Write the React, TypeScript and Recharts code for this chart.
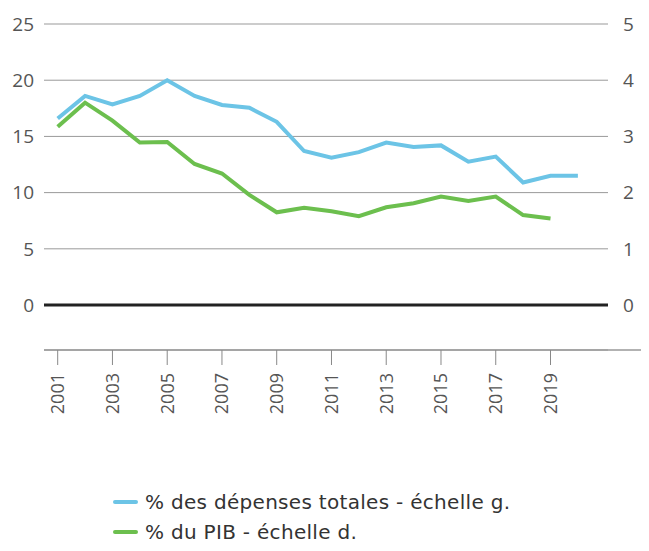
import { LineChart, Line, XAxis, YAxis, CartesianGrid, ReferenceLine, Legend } from 'recharts'

// années et valeurs
const years = [
  2001, 2002, 2003, 2004, 2005, 2006, 2007, 2008, 2009, 2010,
  2011, 2012, 2013, 2014, 2015, 2016, 2017, 2018, 2019, 2020,
]
const depensesTotales = [
  16.6, 18.6, 17.85, 18.6, 20.0, 18.6, 17.8, 17.55, 16.3, 13.7,
  13.1, 13.6, 14.45, 14.05, 14.2, 12.75, 13.2, 10.9, 11.5, 11.5,
]
const partPib: (number | null)[] = [
  3.17, 3.6, 3.28, 2.89, 2.9, 2.51, 2.34, 1.96, 1.65, 1.73,
  1.67, 1.58, 1.74, 1.81, 1.93, 1.85, 1.93, 1.6, 1.54, null,
]
const yearTicks = [2001, 2003, 2005, 2007, 2009, 2011, 2013, 2015, 2017, 2019]
const leftTicks = [0, 5, 10, 15, 20, 25]
const rightTicks = [0, 1, 2, 3, 4, 5]

const data = years.map((year, i) => ({
  year,
  depenses: depensesTotales[i],
  pib: partPib[i],
}))

const FONT = '"Open Sans", sans-serif'
const LEGEND_FONT = '"DejaVu Sans", sans-serif'
const BLUE = '#6cc4e6'
const GREEN = '#6cbf4e'

// eslint-disable-next-line @typescript-eslint/no-explicit-any
function YearTick({ x, y, payload }: any) {
  return (
    <text
      transform={`translate(${x},${y}) rotate(-90)`}
      textAnchor="end"
      dy="0.35em"
      fill="#555"
      fontSize={18}
      fontFamily={FONT}
    >
      {payload.value}
    </text>
  )
}

// eslint-disable-next-line @typescript-eslint/no-explicit-any
function CustomLegend({ payload }: any) {
  return (
    <div
      style={{
        height: 64,
        paddingLeft: 113,
        fontFamily: LEGEND_FONT,
        fontSize: 20,
        letterSpacing: 0.3,
        color: '#333',
      }}
    >
      {/* eslint-disable-next-line @typescript-eslint/no-explicit-any */}
      {payload?.map((entry: any) => (
        <div key={entry.value} style={{ display: 'flex', alignItems: 'center', height: 30, lineHeight: '30px' }}>
          <span
            style={{
              display: 'inline-block',
              width: 25,
              height: 4,
              borderRadius: 2,
              background: entry.color,
              marginRight: 7,
            }}
          />
          <span>{entry.value}</span>
        </div>
      ))}
    </div>
  )
}

export default function App() {
  return (
    <div style={{ margin: -8 }}>
      <LineChart width={649} height={551} data={data} margin={{ top: 24, right: 0, left: 0, bottom: 0 }}>
        <CartesianGrid vertical={false} stroke="#999" yAxisId="left" />
        <XAxis
          dataKey="year"
          type="number"
          domain={[2000.5, 2021.1]}
          ticks={yearTicks}
          interval={0}
          height={137}
          axisLine={false}
          tickSize={15}
          tickMargin={8}
          tickLine={{ stroke: '#888' }}
          tick={<YearTick />}
        />
        <YAxis
          yAxisId="left"
          domain={[-4, 25]}
          ticks={leftTicks}
          width={44}
          axisLine={false}
          tickLine={false}
          tickSize={0}
          tickMargin={10}
          tick={{ fill: '#555', fontSize: 19, fontFamily: FONT }}
        />
        <YAxis
          yAxisId="right"
          orientation="right"
          domain={[-0.8, 5]}
          ticks={rightTicks}
          width={41}
          axisLine={false}
          tickLine={false}
          tickSize={0}
          tickMargin={15}
          tick={{ fill: '#555', fontSize: 19, fontFamily: FONT, textAnchor: 'start' }}
        />
        <ReferenceLine
          yAxisId="left"
          segment={[
            { x: 2000.5, y: -4 },
            { x: 2022.6, y: -4 },
          ]}
          ifOverflow="visible"
          stroke="#999"
          strokeWidth={1.5}
        />
        <ReferenceLine yAxisId="left" y={0} stroke="#222" strokeWidth={3} />
        <Line
          yAxisId="left"
          type="linear"
          dataKey="depenses"
          name="% des dépenses totales - échelle g."
          stroke={BLUE}
          strokeWidth={4}
          dot={false}
          isAnimationActive={false}
        />
        <Line
          yAxisId="right"
          type="linear"
          dataKey="pib"
          name="% du PIB - échelle d."
          stroke={GREEN}
          strokeWidth={4}
          dot={false}
          isAnimationActive={false}
        />
        <Legend verticalAlign="bottom" content={<CustomLegend />} wrapperStyle={{ height: 64 }} />
      </LineChart>
    </div>
  )
}
